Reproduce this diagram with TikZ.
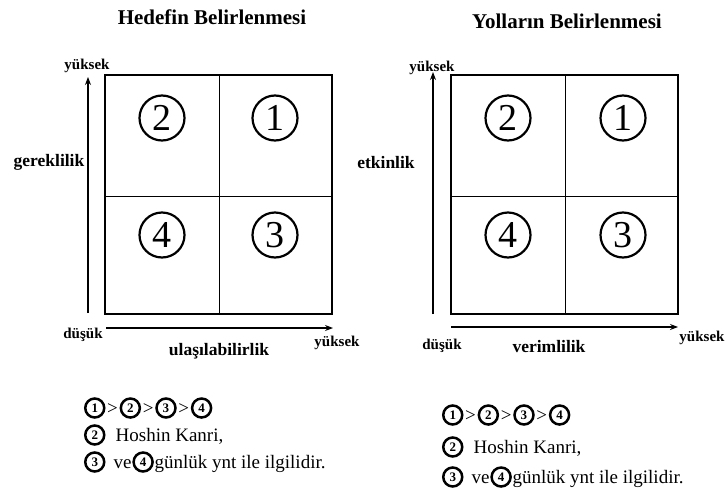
\documentclass[tikz,border=0pt]{standalone}
\usepackage{fontspec}
\setmainfont{Liberation Serif}
\usetikzlibrary{arrows.meta}

\begin{document}
\begin{tikzpicture}[x=1pt,y=-1pt,
  title/.style={font=\bfseries\fontsize{21}{23}\selectfont},
  axislab/.style={font=\bfseries\fontsize{17.5}{19}\selectfont},
  endlab/.style={font=\bfseries\fontsize{15}{16}\selectfont},
  frame/.style={line width=2pt},
  divider/.style={line width=0.9pt},
  axis/.style={line width=1.1pt,-{Stealth[length=8pt,width=6pt]}},
  bignum/.style={circle,draw,line width=2.2pt,minimum size=45pt,inner sep=0pt,font=\fontsize{38}{38}\selectfont},
  % pieces of the legend lines, all aligned on their west anchors
  cn/.style={circle,draw,line width=2.5pt,minimum size=19pt,inner sep=0pt,anchor=west,font=\bfseries\fontsize{13}{13}\selectfont},
  txt/.style={anchor=west,inner sep=0pt,text height=15pt,text depth=3pt,font=\fontsize{19}{21}\selectfont}]
\useasboundingbox (0,0) rectangle (728,490);

% ---------- left panel: Hedefin Belirlenmesi ----------
\node[title] (t1) at (212,17) {Hedefin Belirlenmesi};
\coordinate (a1) at (105,75);
\coordinate (b1) at (332,314);
\draw[frame] (a1) rectangle (b1);
\draw[divider] (219,75) -- (219,314);
\draw[divider] (105,196) -- (332,196);
\node[bignum] (l2) at (162,118) {2};
\node[bignum] (l1) at (275,118) {1};
\node[bignum] (l4) at (162,235) {4};
\node[bignum] (l3) at (275,235) {3};

\coordinate (lv0) at (88,313);
\coordinate (lv1) at (88,77);
\draw[axis] (lv0) -- (lv1);
\coordinate (lh0) at (106,328);
\coordinate (lh1) at (333,328);
\draw[axis] (lh0) -- (lh1);

\node[endlab] (ly) at (87,66) {yüksek};
\node[axislab] (lyl) at (49,162) {gereklilik};
\node[endlab] (ld) at (83,335) {düşük};
\node[axislab] (lxl) at (219,351) {ulaşılabilirlik};
\node[endlab] (lx) at (337,343) {yüksek};

% legend
\node[cn] (la1) at (84,408) {1};
\node[txt] (la2) at ([xshift=1.5pt]la1.east) {>};
\node[cn] (la3) at ([xshift=1.5pt]la2.east) {2};
\node[txt] (la4) at ([xshift=1.5pt]la3.east) {>};
\node[cn] (la5) at ([xshift=1.5pt]la4.east) {3};
\node[txt] (la6) at ([xshift=1.5pt]la5.east) {>};
\node[cn] (la7) at ([xshift=1.5pt]la6.east) {4};

\node[cn] (lb1) at (84,435) {2};
\node[txt] (lb2) at ([xshift=10pt]lb1.east) {Hoshin Kanri,};

\node[cn] (lc1) at (84,462) {3};
\node[txt] (lc2) at ([xshift=8pt]lc1.east) {ve};
\node[cn] (lc3) at ([xshift=0.5pt]lc2.east) {4};
\node[txt] (lc4) at ([xshift=0.5pt]lc3.east) {günlük ynt ile ilgilidir.};

% ---------- right panel: Yolların Belirlenmesi ----------
\node[title] (t2) at (567,21) {Yolların Belirlenmesi};
\coordinate (a2) at (451,75);
\coordinate (b2) at (678,314);
\draw[frame] (a2) rectangle (b2);
\draw[divider] (565,75) -- (565,314);
\draw[divider] (451,196) -- (678,196);
\node[bignum] (r2) at (508,118) {2};
\node[bignum] (r1) at (623,118) {1};
\node[bignum] (r4) at (508,235) {4};
\node[bignum] (r3) at (623,235) {3};

\coordinate (rv0) at (433,314);
\coordinate (rv1) at (433,72);
\draw[axis] (rv0) -- (rv1);
\coordinate (rh0) at (451,327);
\coordinate (rh1) at (678,327);
\draw[axis] (rh0) -- (rh1);

\node[endlab] (ry) at (432,68) {yüksek};
\node[axislab] (ryl) at (386,163) {etkinlik};
\node[endlab] (rd) at (442,346) {düşük};
\node[axislab] (rxl) at (549,347) {verimlilik};
\node[endlab] (rx) at (702,338) {yüksek};

% legend
\node[cn] (ra1) at (442,415) {1};
\node[txt] (ra2) at ([xshift=1.5pt]ra1.east) {>};
\node[cn] (ra3) at ([xshift=1.5pt]ra2.east) {2};
\node[txt] (ra4) at ([xshift=1.5pt]ra3.east) {>};
\node[cn] (ra5) at ([xshift=1.5pt]ra4.east) {3};
\node[txt] (ra6) at ([xshift=1.5pt]ra5.east) {>};
\node[cn] (ra7) at ([xshift=1.5pt]ra6.east) {4};

\node[cn] (rb1) at (442,447) {2};
\node[txt] (rb2) at ([xshift=10pt]rb1.east) {Hoshin Kanri,};

\node[cn] (rc1) at (442,477) {3};
\node[txt] (rc2) at ([xshift=8pt]rc1.east) {ve};
\node[cn] (rc3) at ([xshift=0.5pt]rc2.east) {4};
\node[txt] (rc4) at ([xshift=0.5pt]rc3.east) {günlük ynt ile ilgilidir.};
\end{tikzpicture}
\end{document}
